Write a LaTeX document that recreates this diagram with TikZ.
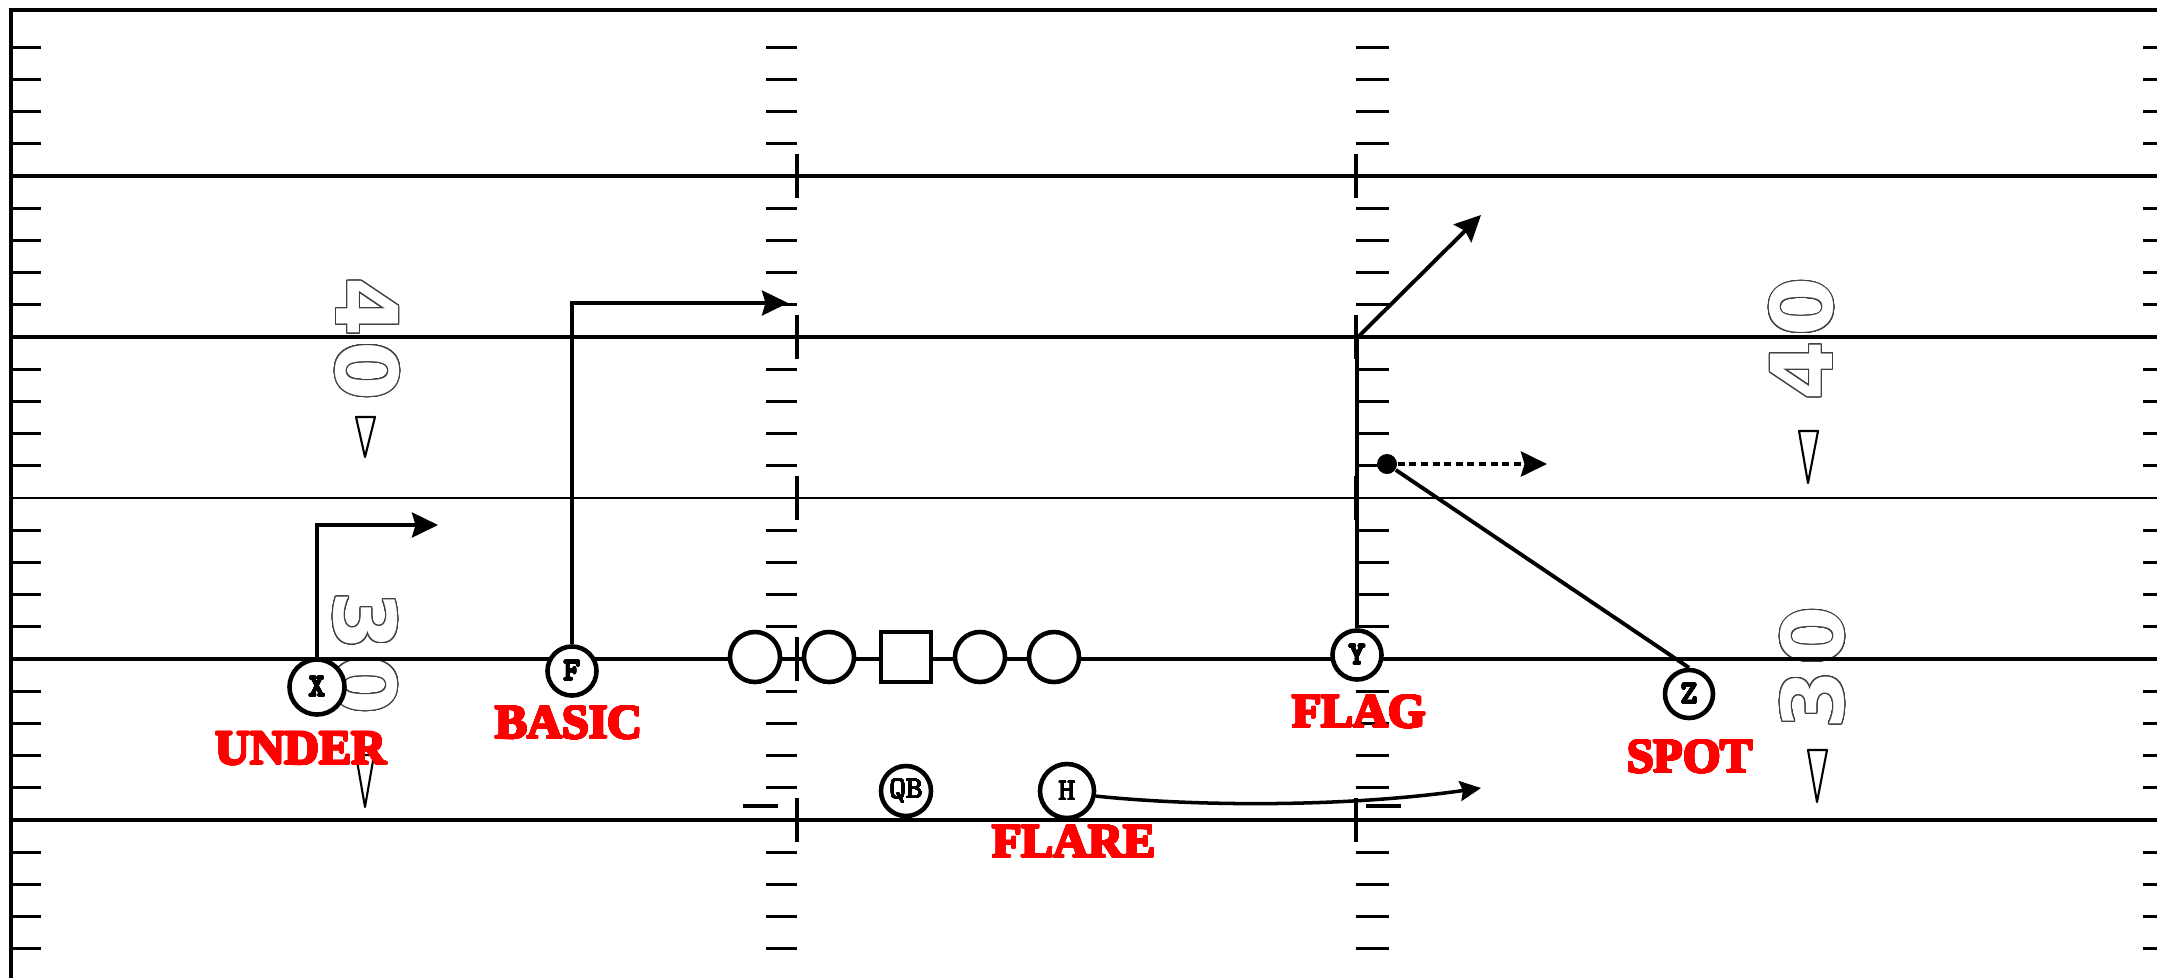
\documentclass[tikz,border=0pt]{standalone}
\usepackage{fontspec}
\usepackage{contour}
\usetikzlibrary{arrows.meta}
\newfontfamily\callfont{Liberation Serif}
\newfontfamily\numfont{DejaVu Sans}
\contourlength{0.3pt}
\contournumber{32}
\newcommand{\yardno}[2]{\contour{black!75}{#1}\kern0.05em\contour{black!75}{#2}}
\newcommand{\callout}[1]{{\contourlength{0.3pt}\contour{red}{#1}}}
\newcommand{\heavytag}[1]{{\contourlength{0.22pt}\contour{black}{#1}}}
\newcommand{\lighttag}[1]{{\contourlength{0.1pt}\contour{black}{#1}}}

\tikzset{
  player/.style={circle, draw, line width=1.3pt, fill=white, inner sep=0pt, minimum size=0.49cm,
    font=\ttfamily\fontsize{9}{9}\selectfont},
  lineman/.style={circle, draw, line width=1.3pt, fill=white, inner sep=0pt, minimum size=0.50cm},
  snapper/.style={rectangle, draw, line width=1.3pt, fill=white, inner sep=0pt, minimum size=0.50cm},
  playcall/.style={text=red, inner sep=0pt, font=\callfont\bfseries\fontsize{13.7}{14}\selectfont},
  yardnum/.style={text=white, inner sep=0pt, font=\numfont\bfseries\fontsize{24.2}{25}\selectfont},
  route/.style={line width=1.1pt, -{Stealth[length=7.4pt, width=7.1pt, inset=1pt]}},
  yardline/.style={line width=0.9pt},
  hashmark/.style={line width=0.9pt},
  arrowmark/.style={line width=0.6pt, line join=round}
}

\begin{document}
\begin{tikzpicture}[x=0.01cm, y=-0.01cm]
\useasboundingbox (0,0) rectangle (2157,978);

% yard numbers
\node[yardnum, rotate=-90] (num40l) at (367,339) {\yardno{4}{0}};
\node[yardnum, rotate=-90] (num30l) at (365,653) {\yardno{3}{0}};
\node[yardnum, rotate=90] (num40r) at (1802,339) {\yardno{4}{0}};
\node[yardnum, rotate=90] (num30r) at (1813,668) {\yardno{3}{0}};

% field
\draw[line width=1.1pt] (11,978) -- (11,10) -- (2157,10);
\foreach \yy in {176,337,659,820}
  \draw[yardline] (11,\yy) -- (2157,\yy);
\draw[line width=0.6pt] (11,498) -- (2157,498);
\foreach \j in {1,...,29}{
  \pgfmathtruncatemacro{\rest}{mod(\j,5)}
  \ifnum\rest>0
    \pgfmathsetmacro{\yy}{15+32.2*\j}
    \draw[hashmark] (11,\yy) -- (41,\yy);
    \draw[hashmark] (766,\yy) -- (797,\yy);
    \draw[hashmark] (1356,\yy) -- (1389,\yy);
    \draw[hashmark] (2143,\yy) -- (2157,\yy);
  \fi
}
\foreach \yy in {176,337,498,659,820}{
  \draw[hashmark] (797,\yy-22) -- (797,\yy+22);
  \draw[hashmark] (1356,\yy-22) -- (1356,\yy+22);
}
\draw[hashmark] (743,806) -- (778,806);
\draw[hashmark] (1366,806) -- (1401,806);

% direction arrows
\draw[arrowmark] (356,417) -- (375,417) -- (365,457) -- cycle;
\draw[arrowmark] (356,755) -- (374,755) -- (365,807) -- cycle;
\draw[arrowmark] (1799,431) -- (1818,431) -- (1808,483) -- cycle;
\draw[arrowmark] (1808,750) -- (1827,750) -- (1817,802) -- cycle;

% offense
\node[lineman] (lt) at (755,657) {};
\node[lineman] (lg) at (829,657) {};
\node[snapper] (c) at (906,657) {};
\node[lineman] (rg) at (980,657) {};
\node[lineman] (rt) at (1054,657) {};
\node[player, minimum size=0.55cm] (x) at (317,687) {\heavytag{X}};
\node[player] (f) at (572,671) {\heavytag{F}};
\node[player] (y) at (1357,655) {\heavytag{Y}};
\node[player, minimum size=0.48cm] (z) at (1689,694) {\heavytag{Z}};
\node[player, minimum size=0.50cm] (qb) at (906,791) {\lighttag{QB}};
\node[player, minimum size=0.54cm] (h) at (1067,791) {\lighttag{H}};
\node[circle, fill, inner sep=0pt, minimum size=0.2cm] (spot) at (1387,464) {};

% routes
\coordinate (xend) at (438,525);
\coordinate (fend) at (788,303);
\coordinate (ycut) at (1357,338);
\coordinate (yend) at (1481,215);
\coordinate (zend) at (1547,464);
\coordinate (hend) at (1481,788);
\draw[route] (x.north) |- (xend);
\draw[route] (f.north) |- (fend);
\draw[route] (y.north) -- (ycut) -- (yend);
\draw[line width=1.1pt] (z.north) -- (spot);
\draw[route, dash pattern=on 2pt off 1.3pt] (spot) -- (zend);
\draw[line width=1pt, -{Stealth[length=6pt, width=5.7pt, inset=0.8pt]}]
  (h.-10) .. controls (1190,806) and (1340,808) .. (hend);

% calls
\node[playcall] (under) at (301,749) {\callout{UNDER}};
\node[playcall] (basic) at (569,723) {\callout{BASIC}};
\node[playcall] (flag) at (1359,712) {\callout{FLAG}};
\node[playcall] (flare) at (1074,842) {\callout{FLARE}};
\node[playcall] (spotcall) at (1690,757) {\callout{SPOT}};

\end{tikzpicture}
\end{document}
